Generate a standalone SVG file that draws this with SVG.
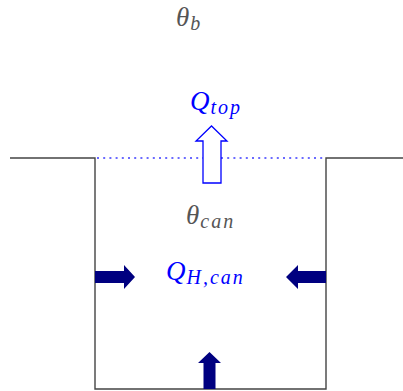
<svg xmlns="http://www.w3.org/2000/svg" width="403" height="391" viewBox="0 0 403 391">
<style>
.wall{fill:none;stroke:#444;stroke-width:1.4}
.dot{fill:none;stroke:#3a3aff;stroke-width:1.4;stroke-dasharray:2 4.2}
.navy{fill:#000080;stroke:none}
.hollow{fill:#fff;stroke:#0000ff;stroke-width:1.3}
.gray{fill:#555;font-family:"Liberation Serif",serif;font-style:italic;font-size:27px}
.blue{fill:#0000ff;font-family:"Liberation Serif",serif;font-style:italic;font-size:27px}
.sub{font-size:20px;letter-spacing:2px}
</style>
<rect width="403" height="391" fill="#fff"/>
<g id="container">
<polyline class="wall" points="10,158 95,158 95,389 326,389 326,158 403,158"/>
<line class="dot" x1="97" y1="158" x2="325" y2="158"/>
</g>
<g id="connectors">
<polygon id="q-top-arrow" class="hollow" points="203,183 221,183 221,141 227,141 211.5,126 196,141 203,141"/>
<polygon id="left-arrow" class="navy" points="95,271 124,271 124,265 135,277 124,289 124,283 95,283"/>
<polygon id="right-arrow" class="navy" points="326,271 298,271 298,265 286,277 298,289 298,283 326,283"/>
<polygon id="bottom-arrow" class="navy" points="203.5,389 215.5,389 215.5,363 221,363 209.5,352 198,363 203.5,363"/>
</g>
<g id="theta-b"><text class="gray" x="176" y="26">θ<tspan class="sub" dx="1" dy="4">b</tspan></text></g>
<g id="q-top"><text class="blue" x="190" y="110">Q<tspan class="sub" dx="1" dy="4">top</tspan></text></g>
<g id="theta-can"><text class="gray" x="186" y="224">θ<tspan class="sub" dx="1" dy="4">can</tspan></text></g>
<g id="q-h-can"><text class="blue" x="166" y="280">Q<tspan class="sub" dx="1" dy="4">H,can</tspan></text></g>
</svg>
